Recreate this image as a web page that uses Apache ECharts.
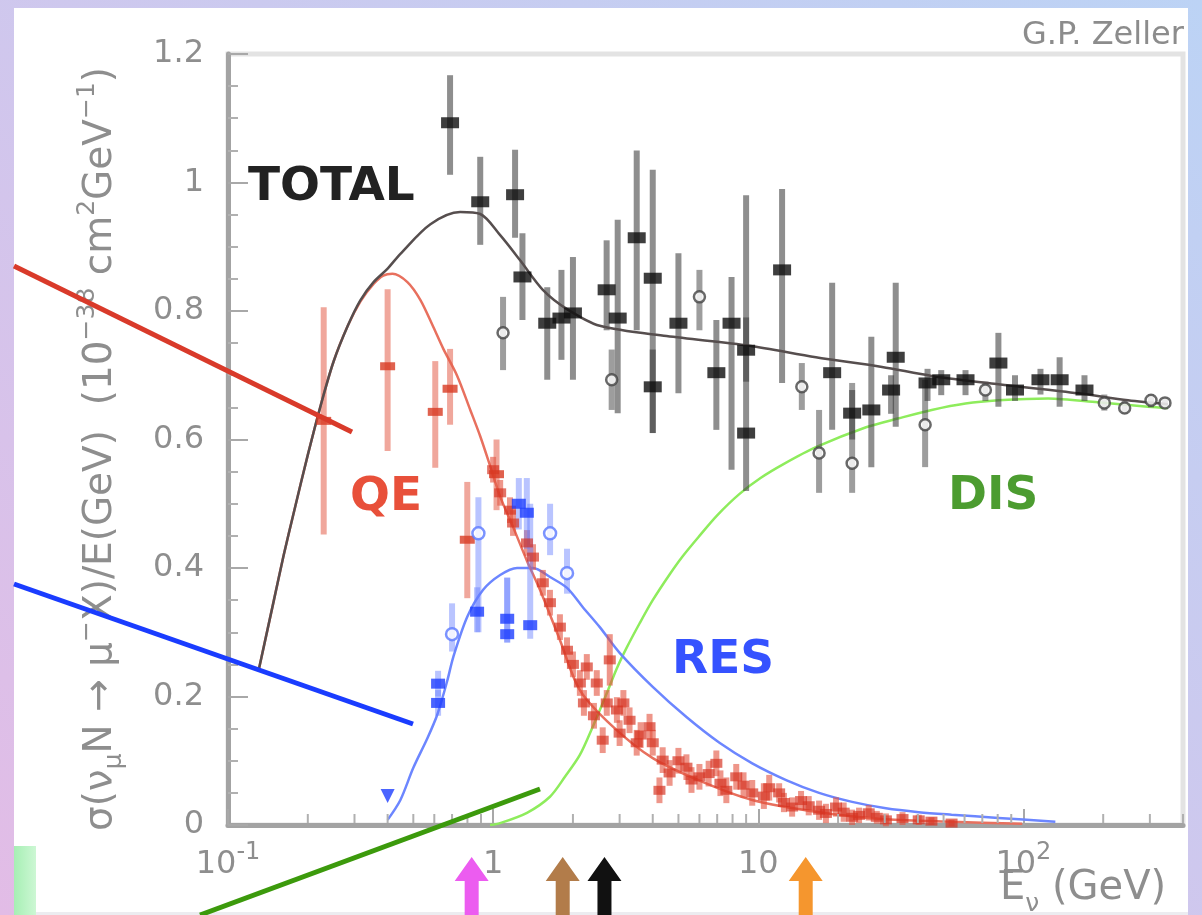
<!DOCTYPE html>
<html>
<head>
<meta charset="utf-8">
<script src="https://cdn.jsdelivr.net/npm/echarts@6/dist/echarts.min.js"></script>
<style>
  html, body { margin: 0; padding: 0; width: 1202px; height: 915px; overflow: hidden; }
  #slide { position: absolute; left: 0; top: 0; width: 1202px; height: 915px;
           background: linear-gradient(to top right, #e2bce6, #bcd3f5); }
  #panel { position: absolute; left: 14px; top: 8px; width: 1174px; height: 904px; background: #ffffff; }
  #foot  { position: absolute; left: 14px; top: 912px; width: 1174px; height: 3px; background: #ececf0; }
  #tab   { position: absolute; left: 14px; top: 846px; width: 22px; height: 69px;
           background: linear-gradient(to right, #a6efb4, #cdf7d4); }
  #chart { position: absolute; left: 0; top: 0; width: 1202px; height: 915px; }
</style>
</head>
<body>
<div id="slide"></div>
<div id="panel"></div>
<div id="foot"></div>
<div id="tab"></div>
<div id="chart"></div>
<script>
// Neutrino charged-current cross section per energy, sigma/E in 1e-38 cm^2/GeV, vs E (GeV)

// Model curves: [E, sigma/E]
const totalCurve = [
  [0.131,0.244],[0.149,0.350],[0.162,0.419],[0.177,0.486],[0.200,0.576],[0.224,0.654],
  [0.250,0.721],[0.283,0.777],[0.316,0.817],[0.354,0.845],[0.400,0.866],[0.447,0.889],
  [0.580,0.935],[0.751,0.954],[0.894,0.951],[1.063,0.918],[1.264,0.879],[1.54,0.833],
  [1.90,0.803],[2.525,0.777],[4.51,0.761],[9.25,0.746],[16.5,0.728],[29.3,0.713],
  [45.1,0.699],[80.5,0.686],[161,0.672],[248,0.661],[351,0.655]
];
const qeCurve = [
  [0.131,0.244],[0.149,0.350],[0.162,0.419],[0.177,0.486],[0.200,0.576],[0.224,0.654],
  [0.250,0.721],[0.283,0.777],[0.316,0.815],[0.354,0.842],[0.385,0.855],[0.417,0.858],
  [0.475,0.845],[0.532,0.817],[0.595,0.775],[0.649,0.741],[0.732,0.699],[0.820,0.646],
  [0.894,0.605],[0.974,0.559],[1.063,0.511],[1.189,0.464],[1.342,0.411],[1.502,0.366],
  [1.786,0.288],[2.124,0.210],[2.83,0.153],[4.0,0.104],[6.16,0.067],[9.49,0.039],
  [16.96,0.020],[30.3,0.009],[53.6,0.005],[99,0.002]
];
const resCurve = [
  [0.40,0.008],[0.447,0.039],[0.500,0.089],[0.565,0.135],[0.616,0.172],[0.672,0.225],
  [0.707,0.261],[0.799,0.324],[0.917,0.366],[1.063,0.389],[1.231,0.400],[1.414,0.400],
  [1.638,0.386],[1.90,0.369],[2.18,0.339],[2.525,0.308],[3.00,0.268],[4.00,0.215],
  [5.36,0.168],[7.14,0.128],[9.49,0.096],[12.74,0.070],[16.96,0.050],[22.6,0.036],
  [30.3,0.026],[40.3,0.020],[53.6,0.016],[80.5,0.011],[132,0.005]
];
const disCurve = [
  [0.974,0.000],[1.063,0.003],[1.342,0.019],[1.638,0.044],[1.866,0.075],[2.124,0.109],
  [2.376,0.153],[2.683,0.205],[2.93,0.244],[3.19,0.276],[3.57,0.314],[4.00,0.350],
  [4.63,0.390],[5.18,0.418],[6.0,0.450],[7.0,0.482],[8.48,0.515],[10.2,0.540],
  [12.5,0.562],[16.5,0.588],[25.5,0.619],[33.9,0.633],[45.1,0.646],[60.5,0.656],
  [80.5,0.661],[124,0.664],[191,0.658],[295,0.651],[351,0.649]
];

// TOTAL measurements: [E, sigma/E, low, high]
const totalFilled = [
  [0.688,1.093,1.012,1.167],[0.894,0.970,0.903,1.040],[1.21,0.981,0.914,1.051],
  [1.29,0.853,0.786,0.921],[1.60,0.781,0.693,0.837],[1.81,0.789,0.724,0.864],
  [2.0,0.797,0.693,0.884],[2.68,0.833,0.770,0.910],[2.95,0.789,0.641,0.942],
  [3.48,0.914,0.770,1.050],[4.0,0.851,0.610,1.020],[4.0,0.682,0.610,0.740],
  [5.0,0.781,0.672,0.890],[6.95,0.704,0.615,0.786],[7.93,0.781,0.553,0.853],
  [9.0,0.610,0.520,0.980],[9.0,0.739,0.690,0.790],[12.3,0.864,0.688,0.990],
  [19.0,0.704,0.615,0.844],[22.6,0.641,0.600,0.677],[26.7,0.646,0.557,0.760],
  [33.0,0.728,0.620,0.844],[31.7,0.677,0.640,0.700],[43.5,0.688,0.660,0.710],
  [49.0,0.693,0.669,0.708],[60.5,0.693,0.669,0.708],[80.5,0.719,0.651,0.766],
  [93.0,0.677,0.660,0.700],[116,0.693,0.670,0.710],[137,0.693,0.651,0.728],
  [170,0.677,0.660,0.700]
];
const totalOpen = [
  [1.09,0.766,0.708,0.822],[2.8,0.693,0.646,0.740],[6.0,0.822,0.770,0.864],
  [14.6,0.682,0.646,0.719],[16.96,0.579,0.517,0.646],[22.6,0.563,0.517,0.688],
  [42.6,0.623,0.557,0.693],[71.9,0.677,0.660,0.690],[202,0.657,0.645,0.670],
  [241,0.649,0.640,0.660],[303,0.661,0.650,0.670],[342,0.657,0.650,0.665]
];

// QE measurements: [E, sigma/E, low, high]
const qeData = [
  [0.2296,0.629,0.452,0.806],[0.40,0.714,0.582,0.834],[0.605,0.643,0.556,0.722],
  [0.688,0.679,0.623,0.741],[0.799,0.444,0.353,0.534],[1.03,0.546,0.490,0.600]
];
// QE high-statistics points: [E, sigma/E, error]
const qeDense = [
  [1.00,0.553,0.02],[1.063,0.517,0.02],[1.158,0.490,0.02],[1.189,0.470,0.02],[1.342,0.439,0.02],
  [1.414,0.417,0.02],[1.54,0.377,0.02],[1.638,0.346,0.02],[1.786,0.308,0.02],[1.90,0.272,0.02],
  [2.0,0.250,0.02],[2.124,0.221,0.02],[2.2,0.190,0.02],[2.256,0.246,0.02],[2.4,0.170,0.02],
  [2.46,0.221,0.02],[2.59,0.132,0.02],[2.683,0.190,0.02],[2.754,0.257,0.04],[2.93,0.179,0.02],
  [3.00,0.143,0.02],[3.1,0.190,0.02],[3.27,0.163,0.02],[3.48,0.128,0.02],[3.6,0.140,0.02],
  [3.89,0.153,0.02],[4.0,0.128,0.02],[4.24,0.054,0.02],[4.36,0.101,0.02],[4.63,0.081,0.02],
  [5.0,0.100,0.02],[5.36,0.090,0.02],[5.6,0.070,0.02],[6.0,0.075,0.02],[6.5,0.080,0.02],
  [6.95,0.096,0.02],[7.2,0.065,0.02],[7.58,0.054,0.02],[8.26,0.075,0.02],[8.8,0.062,0.02],
  [9.49,0.050,0.02],[10.5,0.045,0.02],[11.0,0.058,0.02],[11.99,0.050,0.015],[12.5,0.035,0.015],
  [13.42,0.028,0.015],[14.5,0.038,0.015],[15.5,0.030,0.015],[16.96,0.023,0.015],[18,0.018,0.015],
  [19.65,0.028,0.015],[21,0.020,0.015],[22.6,0.012,0.012],[24,0.015,0.012],[26.1,0.019,0.012],
  [28,0.012,0.01],[30.3,0.008,0.01],[35,0.010,0.01],[40.3,0.008,0.008],[45,0.006,0.006],
  [53.6,0.003,0.005]
];

// RES measurements: [E, sigma/E, low, high]
const resFilled = [
  [0.62,0.220,0.200,0.240],[0.62,0.190,0.170,0.210],[0.87,0.332,0.300,0.370],
  [1.13,0.321,0.284,0.385],[1.13,0.297,0.284,0.385],[1.25,0.500,0.460,0.540],
  [1.34,0.486,0.430,0.540],[1.38,0.311,0.290,0.500]
];
const resOpen = [
  [0.70,0.297,0.270,0.345],[0.88,0.454,0.300,0.510],[1.64,0.454,0.420,0.500],
  [1.90,0.392,0.360,0.430]
];
const resTriangle = [[0.40,0.045]];

// Beam energies marked below the axis
const arrowEnergies = [0.83, 1.83, 2.63, 15.1];
const arrowColors = ['#ec5cf0', '#b27c4a', '#111111', '#f5962e'];

// Unlabelled log-axis ticks
const xMinorTicks = [0.2,0.3,0.4,0.5,0.6,0.7,0.8,0.9, 2,3,4,5,6,7,8,9,
                     20,30,40,50,60,70,80,90, 200,300,400];

const GRAY = '#8e8e8e';

function errorBars(rows, color, width, z) {
  return {
    type: 'custom', silent: true, z: z,
    data: rows.map(r => [r[0], r[2], r[3]]),
    encode: { x: 0, y: [1, 2] },
    renderItem: function (params, api) {
      const lo = api.coord([api.value(0), api.value(1)]);
      const hi = api.coord([api.value(0), api.value(2)]);
      return { type: 'line', shape: { x1: lo[0], y1: lo[1], x2: hi[0], y2: hi[1] },
               style: { stroke: color, lineWidth: width } };
    }
  };
}
function curve(points, color, z) {
  return { type: 'line', data: points, showSymbol: false, smooth: 0.3,
           z: z, silent: true, lineStyle: { color: color, width: 2.5 } };
}

const chart = echarts.init(document.getElementById('chart'), null, { renderer: 'canvas' });

const labelFont = { fontFamily: 'DejaVu Sans', fontWeight: 'bold', fontSize: 47 };

chart.setOption({
  animation: false,
  backgroundColor: 'transparent',
  grid: { left: 228, right: 19, top: 54, bottom: 90, show: true,
          borderColor: '#e3e3e3', borderWidth: 5, backgroundColor: 'transparent',
          outerBoundsMode: 'none' },
  xAxis: {
    type: 'log', logBase: 10, min: 0.1, max: 400,
    axisLine: { show: true, lineStyle: { color: '#a3a3a3', width: 5 } },
    axisTick: { show: true, inside: true, length: 16, lineStyle: { color: '#a8a8a8', width: 2 } },
    splitLine: { show: false },
    axisLabel: {
      margin: 16, showMaxLabel: false,
      formatter: function (v) {
        const k = Math.round(Math.log10(v));
        if (k === 0) return '{b|1}';
        if (k === 1) return '{b|10}';
        return '{b|10}{s|' + k + '}';
      },
      rich: {
        b: { fontFamily: 'DejaVu Sans', fontSize: 32, color: GRAY, lineHeight: 40, verticalAlign: 'bottom' },
        s: { fontFamily: 'DejaVu Sans', fontSize: 24, color: GRAY, lineHeight: 24, verticalAlign: 'top' }
      }
    }
  },
  yAxis: {
    type: 'value', min: 0, max: 1.2, interval: 0.2,
    axisLine: { show: true, lineStyle: { color: '#a3a3a3', width: 5 } },
    axisTick: { show: true, inside: true, length: 20, lineStyle: { color: '#a8a8a8', width: 2 } },
    minorTick: { show: true, splitNumber: 4, length: 10, lineStyle: { color: '#b0b0b0', width: 2 } },
    splitLine: { show: false },
    axisLabel: { margin: 24, fontFamily: 'DejaVu Sans', fontSize: 32, color: GRAY }
  },
  series: [
    curve(disCurve, '#8eec5c', 2),
    curve(resCurve, '#6c86ff', 2),
    curve(qeCurve, '#e8705e', 2),
    errorBars(totalFilled, 'rgba(60,60,60,0.58)', 6, 3),
    errorBars(totalOpen, 'rgba(60,60,60,0.5)', 6, 3),
    errorBars(qeDense.map(r => [r[0], r[1], r[1] - r[2], r[1] + r[2]]), 'rgba(226,80,60,0.6)', 6, 3),
    errorBars(qeData, 'rgba(228,95,75,0.55)', 6, 3),
    errorBars(resFilled, 'rgba(100,125,255,0.45)', 6, 3),
    errorBars(resOpen, 'rgba(100,125,255,0.45)', 6, 3),
    curve(totalCurve, '#564e4e', 4),
    {
      type: 'scatter', z: 5, silent: true, symbol: 'rect', symbolSize: [12, 9],
      data: qeDense.map(r => [r[0], r[1]]),
      itemStyle: { color: 'rgba(214,50,32,0.85)' }
    },
    {
      type: 'scatter', z: 6, silent: true, symbol: 'rect', symbolSize: [15, 8],
      data: qeData.map(r => [r[0], r[1]]), itemStyle: { color: '#d83a22' }
    },
    {
      type: 'scatter', z: 6, silent: true, symbol: 'rect', symbolSize: [14, 10],
      data: resFilled.map(r => [r[0], r[1]]), itemStyle: { color: '#1d3dff' }
    },
    {
      type: 'scatter', z: 6, silent: true, symbol: 'circle', symbolSize: 12,
      data: resOpen.map(r => [r[0], r[1]]),
      itemStyle: { color: '#ffffff', borderColor: '#5a78ff', borderWidth: 2.5 }
    },
    {
      type: 'scatter', z: 6, silent: true, symbol: 'triangle', symbolRotate: 180, symbolSize: 14,
      data: resTriangle, itemStyle: { color: '#1d3dff' }
    },
    {
      type: 'scatter', z: 7, silent: true, symbol: 'rect', symbolSize: [18, 11],
      data: totalFilled.map(r => [r[0], r[1]]), itemStyle: { color: '#0e0e0e' }
    },
    {
      type: 'scatter', z: 7, silent: true, symbol: 'circle', symbolSize: 11,
      data: totalOpen.map(r => [r[0], r[1]]),
      itemStyle: { color: '#ffffff', borderColor: '#444444', borderWidth: 2.5 }
    },
    {
      // minor ticks of the log axis
      type: 'custom', z: 8, silent: true,
      data: xMinorTicks.map(v => [v, 0]),
      renderItem: function (params, api) {
        const p = api.coord([api.value(0), 0]);
        return { type: 'line', shape: { x1: p[0], y1: p[1] - 2, x2: p[0], y2: p[1] - 11 },
                 style: { stroke: '#b0b0b0', lineWidth: 2 } };
      }
    },
    {
      // beam-energy arrows under the axis
      type: 'custom', z: 8, silent: true, clip: false,
      data: arrowEnergies.map((e, i) => [e, 0, i]),
      renderItem: function (params, api) {
        const p = api.coord([api.value(0), 0]);
        const x = p[0], y0 = p[1] + 32, h = 24;
        return {
          type: 'polygon',
          shape: { points: [[x, y0], [x + 17, y0 + h], [x + 7, y0 + h], [x + 7, 915],
                            [x - 7, 915], [x - 7, y0 + h], [x - 17, y0 + h]] },
          style: { fill: arrowColors[api.value(2)] }
        };
      }
    }
  ],
  graphic: [
    { type: 'text', left: 248, top: 164, z: 20,
      style: Object.assign({ text: 'TOTAL', fill: '#222222' }, labelFont) },
    { type: 'text', left: 350, top: 474, z: 20,
      style: Object.assign({ text: 'QE', fill: '#e8503a' }, labelFont) },
    { type: 'text', left: 672, top: 637, z: 20,
      style: Object.assign({ text: 'RES', fill: '#3552ff' }, labelFont) },
    { type: 'text', left: 948, top: 473, z: 20,
      style: Object.assign({ text: 'DIS', fill: '#4c9c30' }, labelFont) },
    { type: 'text', left: 1022, top: 20, z: 20,
      style: { text: 'G.P. Zeller', font: '32px "DejaVu Sans"', fill: '#8c8c8c' } },
    { type: 'text', left: 1000, top: 869, z: 20,
      style: {
        text: '{b|E}{u|ν}{b| (GeV)}',
        rich: {
          b: { fontFamily: 'DejaVu Sans', fontSize: 40, fill: GRAY, lineHeight: 48, verticalAlign: 'top' },
          u: { fontFamily: 'DejaVu Sans', fontSize: 25, fill: GRAY, lineHeight: 25, verticalAlign: 'bottom' }
        }
      } },
    { type: 'text', x: 101, y: 449, rotation: Math.PI / 2, z: 20,
      style: {
        text: '{b|σ(ν}{u|μ}{b|N → μ}{p|−}{b|X)/E(GeV)  (10}{p|−38}{b| cm}{p|2}{b|GeV}{p|−1}{b|)}',
        align: 'center', verticalAlign: 'middle',
        rich: {
          b: { fontFamily: 'DejaVu Sans', fontSize: 39, fill: GRAY, lineHeight: 52, verticalAlign: 'middle' },
          u: { fontFamily: 'DejaVu Sans', fontSize: 25, fill: GRAY, lineHeight: 25, verticalAlign: 'bottom' },
          p: { fontFamily: 'DejaVu Sans', fontSize: 25, fill: GRAY, lineHeight: 25, verticalAlign: 'top' }
        }
      } },
    // annotation strokes running in from the slide edge
    { type: 'line', z: 30, shape: { x1: 14, y1: 266, x2: 352, y2: 432 },
      style: { stroke: '#d93a2a', lineWidth: 5 } },
    { type: 'line', z: 30, shape: { x1: 14, y1: 584, x2: 413, y2: 724 },
      style: { stroke: '#1a3cff', lineWidth: 5 } },
    { type: 'line', z: 30, shape: { x1: 200, y1: 915, x2: 540, y2: 789 },
      style: { stroke: '#3c9a0c', lineWidth: 5 } }
  ]
});
</script>
</body>
</html>
